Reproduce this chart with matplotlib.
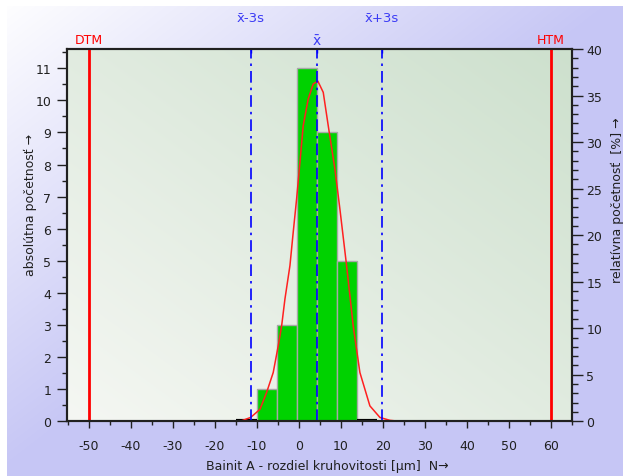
import numpy as np
import matplotlib
matplotlib.use("Agg")
import matplotlib.pyplot as plt
from matplotlib.ticker import MultipleLocator

plt.rcParams['font.family'] = ['DejaVu Sans']
plt.rcParams['axes.unicode_minus'] = False

# histogram of the measured values
bin_edges = [-10.1, -5.3, -0.5, 4.3, 9.1, 13.9]
counts = [1, 3, 11, 9, 5]
empty_bins = [(-14.9, -10.1), (13.9, 18.7)]
n_total = 29

# limits and statistics
dtm, htm = -50, 60
mean = 4.2
minus_3s, plus_3s = -11.4, 19.8

# normal curve (x, absolute count)
curve_x = [-55.3, -14.0, -11.5, -9.29, -7.69, -6.12, -4.93, -4.12, -3.33, -2.14,
           -1.36, -0.55, 0.24, 1.02, 2.21, 3.4, 4.5, 5.79, 6.98, 8.57, 9.76,
           11.36, 12.93, 14.52, 16.9, 19.29, 21.67, 24.0, 65.1]
curve_y = [0.0, 0.0, 0.12, 0.37, 0.9, 1.52, 2.35, 2.97, 3.81, 4.85,
           5.89, 6.93, 8.07, 9.21, 10.04, 10.51, 10.6, 10.25, 9.21, 7.86, 6.61,
           4.84, 2.97, 1.52, 0.48, 0.12, 0.03, 0.0, 0.0]

xlim = (-55.3, 65.1)
ylim = (0, 11.6)

W, H = 623, 477
fig = plt.figure(figsize=(W / 100, H / 100), dpi=100)

# figure background: white -> lavender gradient, white strip at top/left
bg = fig.add_axes([0, 0, 1, 1], zorder=-5)
bg.set_axis_off()
u = np.linspace(0, 1, W)[None, :]
v = np.linspace(0, 1, H)[:, None]
t = np.clip(u + v, 0, 1)
c0 = np.array([1.0, 1.0, 1.0])
c1 = np.array([198, 198, 245]) / 255
img = c0 + (c1 - c0) * t[..., None]
img[:7, :, :] = 1.0
img[:, :7, :] = 1.0
bg.imshow(img, aspect='auto', extent=(0, 1, 0, 1), origin='upper')
bg.set_xlim(0, 1)
bg.set_ylim(0, 1)

left, right, top, bottom = 66.7, 572.3, 50, 422.3
ax = fig.add_axes([left / W, 1 - bottom / H, (right - left) / W, (bottom - top) / H])
ax.set_xlim(*xlim)
ax.set_ylim(*ylim)

# plot area gradient
gu = np.linspace(0, 1, 200)[None, :]
gv = np.linspace(1, 0, 200)[:, None]
gt = (gu + gv) / 2
p0 = np.array([245, 247, 243]) / 255
p1 = np.array([205, 224, 205]) / 255
pimg = p0 + (p1 - p0) * gt[..., None]
ax.imshow(pimg, aspect='auto', extent=(xlim[0], xlim[1], ylim[0], ylim[1]),
          origin='upper', zorder=0)

widths = np.diff(bin_edges)
ax.bar(bin_edges[:-1], counts, width=widths, align='edge', color='#00d200',
       edgecolor='#a8a8a8', linewidth=1, zorder=2)
for a, b in empty_bins:
    ax.plot([a, b], [0, 0], color='black', lw=3, solid_capstyle='butt', zorder=3)

ax.plot(curve_x, curve_y, color='#ff2020', lw=1.1, zorder=4)

ax.axvline(dtm, color='#ff0000', lw=2, zorder=5)
ax.axvline(htm, color='#ff0000', lw=2, zorder=5)
for xv in (minus_3s, mean, plus_3s):
    ax.axvline(xv, color='#0000ff', lw=1.2, linestyle=(0, (7, 3, 1.5, 3)), zorder=5)

for s in ax.spines.values():
    s.set_linewidth(1.5)
    s.set_color('#202020')

ax.xaxis.set_major_locator(MultipleLocator(10))
ax.xaxis.set_minor_locator(MultipleLocator(5))
ax.yaxis.set_major_locator(MultipleLocator(1))
ax.yaxis.set_minor_locator(MultipleLocator(0.5))
ax.tick_params(axis='x', which='major', length=5, width=1, labelsize=9, pad=8, colors='#202020')
ax.tick_params(axis='x', which='minor', length=3, width=1, colors='#202020')
ax.tick_params(axis='y', which='major', length=7, width=1, labelsize=9, pad=4, colors='#202020')
ax.tick_params(axis='y', which='minor', length=3.5, width=1, colors='#202020')

ax2 = ax.twinx()
ax2.set_ylim(0, ylim[1] * 100 / n_total)
ax2.yaxis.set_major_locator(MultipleLocator(5))
ax2.yaxis.set_minor_locator(MultipleLocator(1))
ax2.tick_params(axis='y', which='major', length=8, width=1, labelsize=9, pad=2, colors='#202020')
ax2.tick_params(axis='y', which='minor', length=4, width=1, colors='#202020')
for s in ax2.spines.values():
    s.set_linewidth(1.5)
    s.set_color('#202020')

# top tick marks for the statistics
ax3 = ax.secondary_xaxis('top')
ax3.set_xticks([minus_3s, mean, plus_3s])
ax3.set_xticklabels([])
ax3.tick_params(axis='x', direction='in', length=3, width=1, colors='#0000ff')
ax3.spines['top'].set_visible(False)

def px_text(xd, ypx, s, color, size=9):
    xf = ax.transData.transform((xd, 0))[0] / W
    fig.text(xf, 1 - ypx / H, s, color=color, ha='center', va='center', fontsize=size)

px_text(dtm, 41, 'DTM', '#ff0000')
px_text(htm, 41, 'HTM', '#ff0000')
px_text(mean, 41, 'x\u0304', '#3c3cf5', 10)
px_text(minus_3s, 19, 'x\u0304-3s', '#3c3cf5', 9.5)
px_text(plus_3s, 19, 'x\u0304+3s', '#3c3cf5', 9.5)

fig.text(327 / W, 1 - 467 / H, 'Bainit A - rozdiel kruhovitosti [\u00b5m]  N\u2192',
         ha='center', va='center', fontsize=9, color='#202020')
fig.text(30 / W, 1 - 205 / H, 'absolútna početnosť \u2192', rotation=90,
         ha='center', va='center', fontsize=9, color='#202020')
fig.text(617 / W, 1 - 200 / H, 'relatívna početnosť  [%] \u2192', rotation=90,
         ha='center', va='center', fontsize=9, color='#202020')

fig.savefig('out.png', dpi=100)
